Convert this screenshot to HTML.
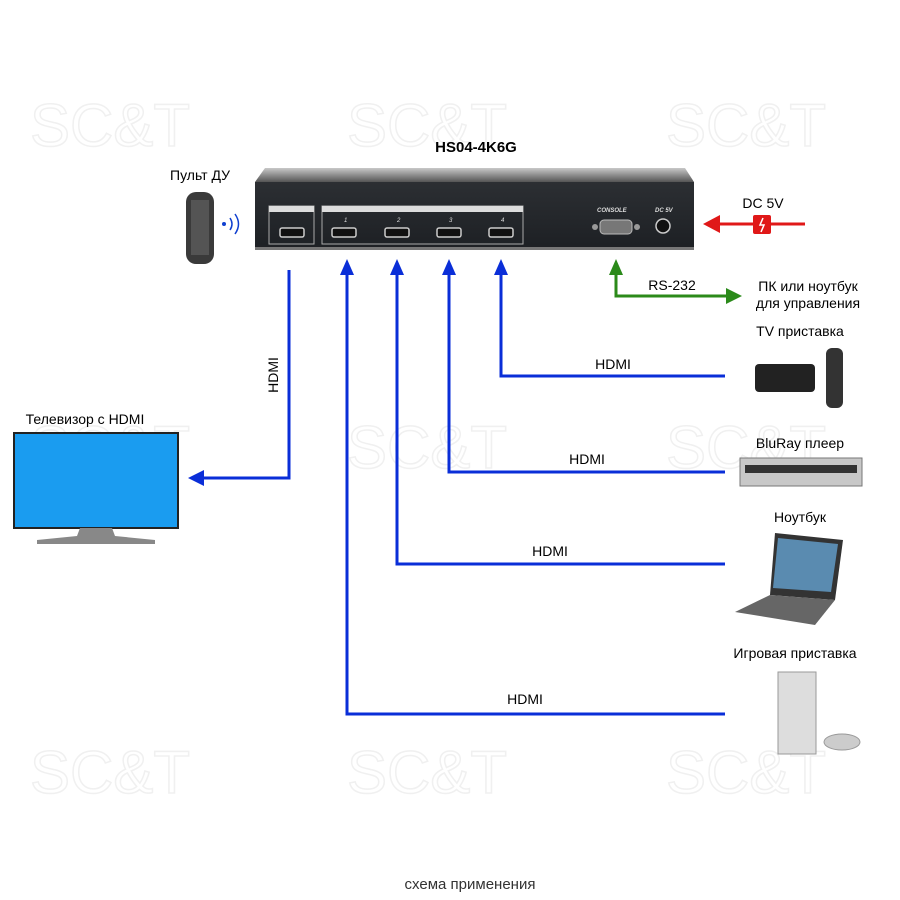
<!DOCTYPE html>
<html><head><meta charset="utf-8"><style>
html,body{margin:0;padding:0;background:#fff}
svg{display:block}
text{font-family:"Liberation Sans",sans-serif}
</style></head><body>
<svg width="900" height="900" viewBox="0 0 900 900" xmlns="http://www.w3.org/2000/svg">
<defs>
<linearGradient id="top" x1="0" y1="0" x2="0" y2="1"><stop offset="0" stop-color="#c8c8c8"/><stop offset="1" stop-color="#555"/></linearGradient>
<linearGradient id="face" x1="0" y1="0" x2="0" y2="1"><stop offset="0" stop-color="#2c2f33"/><stop offset="1" stop-color="#1d2024"/></linearGradient>
</defs>
<g fill="none" stroke="#f0f0f0" stroke-width="1.5" font-size="60">
<text x="30" y="146">SC&amp;T</text><text x="347" y="146">SC&amp;T</text><text x="666" y="146">SC&amp;T</text>
<text x="30" y="468">SC&amp;T</text><text x="347" y="468">SC&amp;T</text><text x="666" y="468">SC&amp;T</text>
<text x="30" y="793">SC&amp;T</text><text x="347" y="793">SC&amp;T</text><text x="666" y="793">SC&amp;T</text>
</g>
<text x="476" y="152" font-size="15" font-weight="bold" text-anchor="middle">HS04-4K6G</text>
<!-- device -->
<polygon points="265,168 685,168 694,182 255,182" fill="url(#top)"/>
<rect x="255" y="182" width="439" height="67" fill="url(#face)"/>
<rect x="255" y="247" width="439" height="3" fill="#777"/>
<rect x="269" y="206" width="45" height="38" fill="none" stroke="#aaa"/>
<rect x="269" y="206" width="45" height="6" fill="#ddd"/>
<rect x="322" y="206" width="201" height="38" fill="none" stroke="#aaa"/>
<rect x="322" y="206" width="201" height="6" fill="#ddd"/>
<g fill="#111" stroke="#ccc" stroke-width="1.5">
<rect x="280" y="228" width="24" height="9" rx="2"/><rect x="332" y="228" width="24" height="9" rx="2"/><rect x="385" y="228" width="24" height="9" rx="2"/><rect x="437" y="228" width="24" height="9" rx="2"/><rect x="489" y="228" width="24" height="9" rx="2"/>
</g>
<g fill="#ddd" font-size="6" font-style="italic"><text x="344" y="222">1</text><text x="397" y="222">2</text><text x="449" y="222">3</text><text x="501" y="222">4</text>
<text x="597" y="212" font-weight="bold">CONSOLE</text><text x="655" y="212" font-weight="bold">DC 5V</text></g>
<rect x="600" y="220" width="32" height="14" rx="4" fill="#777" stroke="#bbb"/>
<circle cx="595" cy="227" r="3" fill="#999"/><circle cx="637" cy="227" r="3" fill="#999"/>
<circle cx="663" cy="226" r="7" fill="#111" stroke="#ccc" stroke-width="1.5"/>
<!-- remote -->
<text x="200" y="180" font-size="14" text-anchor="middle">Пульт ДУ</text>
<rect x="186" y="192" width="28" height="72" rx="10" fill="#3a3a3a"/>
<rect x="191" y="200" width="18" height="55" fill="#666" opacity=".6"/>
<circle cx="224" cy="224" r="2" fill="#1040d0"/>
<path d="M230 218 q4 6 0 12 M235 214 q7 10 0 20" stroke="#1040d0" stroke-width="1.5" fill="none"/>
<!-- TV -->
<text x="85" y="424" font-size="14" text-anchor="middle">Телевизор с HDMI</text>
<rect x="14" y="433" width="164" height="95" fill="#1a9cf0" stroke="#222" stroke-width="2"/>
<polygon points="80,528 112,528 115,536 155,540 155,544 37,544 37,540 77,536" fill="#888"/>
<!-- blue lines -->
<g stroke="#0a2ed8" stroke-width="3" fill="none">
<polyline points="289,270 289,478 200,478"/>
<polyline points="347,270 347,714 725,714"/>
<polyline points="397,270 397,564 725,564"/>
<polyline points="449,270 449,472 725,472"/>
<polyline points="501,270 501,376 725,376"/>
</g>
<g fill="#0a2ed8">
<polygon points="188,478 204,470 204,486"/>
<polygon points="347,259 340,275 354,275"/><polygon points="397,259 390,275 404,275"/>
<polygon points="449,259 442,275 456,275"/><polygon points="501,259 494,275 508,275"/>
</g>
<g font-size="14"><text x="613" y="369" text-anchor="middle">HDMI</text><text x="587" y="464" text-anchor="middle">HDMI</text>
<text x="550" y="556" text-anchor="middle">HDMI</text><text x="525" y="704" text-anchor="middle">HDMI</text>
<text transform="translate(278,375) rotate(-90)" text-anchor="middle">HDMI</text></g>
<!-- green -->
<polyline points="616,270 616,296 730,296" stroke="#2b8a1a" stroke-width="3" fill="none"/>
<polygon points="616,259 609,275 623,275" fill="#2b8a1a"/>
<polygon points="742,296 726,288 726,304" fill="#2b8a1a"/>
<text x="672" y="290" font-size="14" text-anchor="middle">RS-232</text>
<text x="808" y="291" font-size="14" text-anchor="middle">ПК или ноутбук</text>
<text x="808" y="308" font-size="14" text-anchor="middle">для управления</text>
<!-- red -->
<line x1="715" y1="224" x2="805" y2="224" stroke="#e01818" stroke-width="3"/>
<polygon points="703,224 720,215 720,233" fill="#e01818"/>
<rect x="753" y="215" width="18" height="19" rx="2" fill="#e01818"/>
<path d="M763 218 l-3 7 h4 l-3 7" stroke="#fff" stroke-width="1.5" fill="none"/>
<text x="763" y="208" font-size="14" text-anchor="middle">DC 5V</text>
<!-- devices -->
<g font-size="14" text-anchor="middle">
<text x="800" y="336">TV приставка</text><text x="800" y="448">BluRay плеер</text>
<text x="800" y="522">Ноутбук</text><text x="795" y="658">Игровая приставка</text></g>
<rect x="755" y="364" width="60" height="28" rx="4" fill="#222"/>
<rect x="826" y="348" width="17" height="60" rx="6" fill="#333"/>
<rect x="740" y="458" width="122" height="28" fill="#c8c8c8" stroke="#777"/>
<rect x="745" y="465" width="112" height="8" fill="#333"/>
<polygon points="775,533 843,540 835,600 770,595" fill="#333"/>
<polygon points="778,538 838,544 831,592 773,588" fill="#5a8bb0"/>
<polygon points="770,595 835,600 815,625 735,612" fill="#666"/>
<rect x="778" y="672" width="38" height="82" fill="#ddd" stroke="#999"/>
<ellipse cx="842" cy="742" rx="18" ry="8" fill="#ccc" stroke="#999"/>
<!-- footer -->
<text x="470" y="889" font-size="15" text-anchor="middle" fill="#333">схема применения</text>
</svg>
</body></html>
